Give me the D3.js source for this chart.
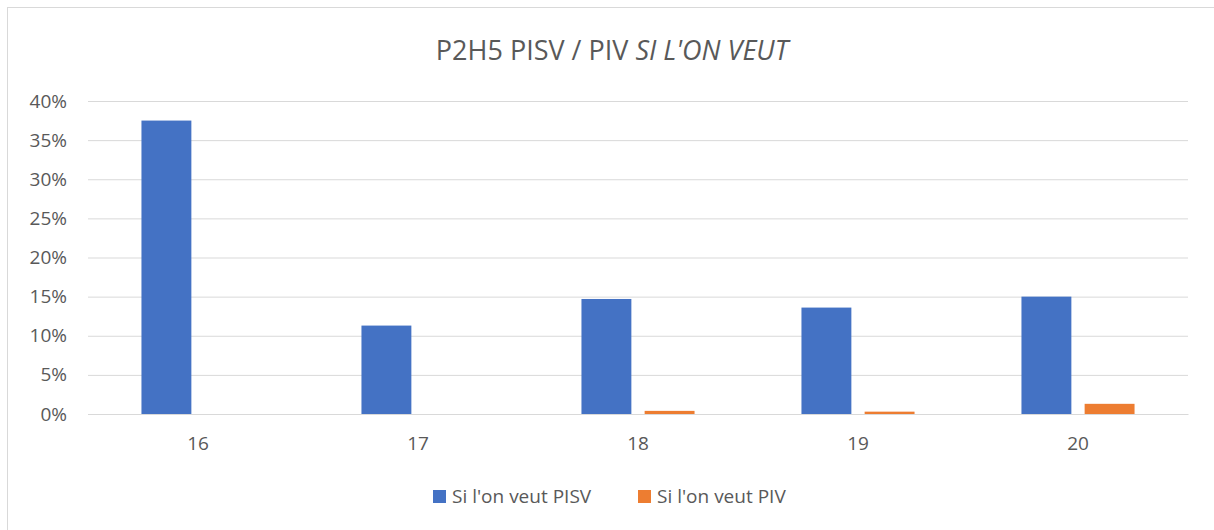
<!DOCTYPE html>
<html>
<head>
<meta charset="utf-8">
<script src="https://cdn.jsdelivr.net/npm/d3@7"></script>
<style>
    body { margin: 0; background: #fff; }
    svg { font-family: "Open Sans", "Noto Sans", sans-serif; }
</style>
</head>
<body>
<svg id="chart" width="1214" height="530"></svg>
<script>
const categories = ["16", "17", "18", "19", "20"];
const seriesNames = ["Si l'on veut PISV", "Si l'on veut PIV"];
const pisv = [0.375, 0.113, 0.147, 0.136, 0.150];
const piv = [0, 0, 0.004, 0.003, 0.013];
const yTicks = [0, 0.05, 0.10, 0.15, 0.20, 0.25, 0.30, 0.35, 0.40];

const colors = ["#4472c4", "#ed7d31"];
const TEXT = "#595959";
const GRID = "#d9d9d9";

const LEFT = 88, RIGHT = 1188, TOP = 101, BOTTOM = 414;

const svg = d3.select("#chart");

// chart border
svg.append("rect")
    .attr("x", 7.5).attr("y", 7.5)
    .attr("width", 1214).attr("height", 530)
    .attr("fill", "none")
    .attr("stroke", GRID);

// title
const title = svg.append("text")
    .attr("x", 612)
    .attr("y", 60)
    .attr("text-anchor", "middle")
    .style("font-size", "27px")
    .style("fill", TEXT);
title.append("tspan").text("P2H5 PISV / PIV ");
title.append("tspan").style("font-style", "italic").text("SI L'ON VEUT");

const x0 = d3.scaleBand()
    .domain(categories)
    .range([LEFT, RIGHT])
    .paddingInner(0.486)
    .paddingOuter(0.243);

const x1 = d3.scaleBand()
    .domain(seriesNames)
    .range([0, x0.bandwidth()])
    .paddingInner(0.21);

const y = d3.scaleLinear()
    .domain([0, 0.40])
    .range([BOTTOM, TOP]);

// grid
svg.append("g")
    .attr("transform", `translate(${LEFT},0)`)
    .call(d3.axisLeft(y).tickValues(yTicks).tickSize(-(RIGHT - LEFT)).tickFormat(""))
    .call(g => g.select(".domain").remove())
    .call(g => g.selectAll("line").attr("stroke", GRID).attr("stroke-width", 1));

// y labels
svg.append("g")
    .attr("transform", `translate(${LEFT},0)`)
    .call(d3.axisLeft(y).tickValues(yTicks).tickSize(0).tickPadding(21).tickFormat(d3.format(".0%")))
    .call(g => g.select(".domain").remove())
    .call(g => g.selectAll("text")
        .style("font-family", "'Open Sans', 'Noto Sans', sans-serif")
        .style("font-size", "19px")
        .attr("fill", TEXT));

// bars
const rows = categories.map((c, i) => ({cat: c, values: [pisv[i], piv[i]]}));

const groups = svg.selectAll(".grp")
    .data(rows)
    .enter()
    .append("g")
    .attr("class", "grp")
    .attr("transform", d => `translate(${x0(d.cat)},0)`);

groups.selectAll("rect")
    .data(d => d.values.map((v, k) => ({name: seriesNames[k], v: v, k: k})))
    .enter()
    .append("rect")
    .attr("x", d => x1(d.name))
    .attr("width", x1.bandwidth())
    .attr("y", d => y(d.v))
    .attr("height", d => BOTTOM - y(d.v))
    .attr("fill", d => colors[d.k]);

// x axis
svg.append("g")
    .attr("transform", `translate(0,${BOTTOM})`)
    .call(d3.axisBottom(x0).tickSize(0).tickPadding(23))
    .call(g => g.select(".domain").attr("stroke", GRID))
    .call(g => g.selectAll("text")
        .style("font-family", "'Open Sans', 'Noto Sans', sans-serif")
        .style("font-size", "19px")
        .attr("fill", TEXT));

// legend
const legendX = [433, 638];
const legend = svg.selectAll(".legend")
    .data(seriesNames)
    .enter()
    .append("g")
    .attr("class", "legend")
    .attr("transform", (d, i) => `translate(${legendX[i]},490)`);

legend.append("rect")
    .attr("width", 13)
    .attr("height", 13)
    .attr("fill", (d, i) => colors[i]);

legend.append("text")
    .attr("x", 19)
    .attr("y", 13)
    .style("font-size", "19px")
    .style("fill", TEXT)
    .text(d => d);
</script>
</body>
</html>
